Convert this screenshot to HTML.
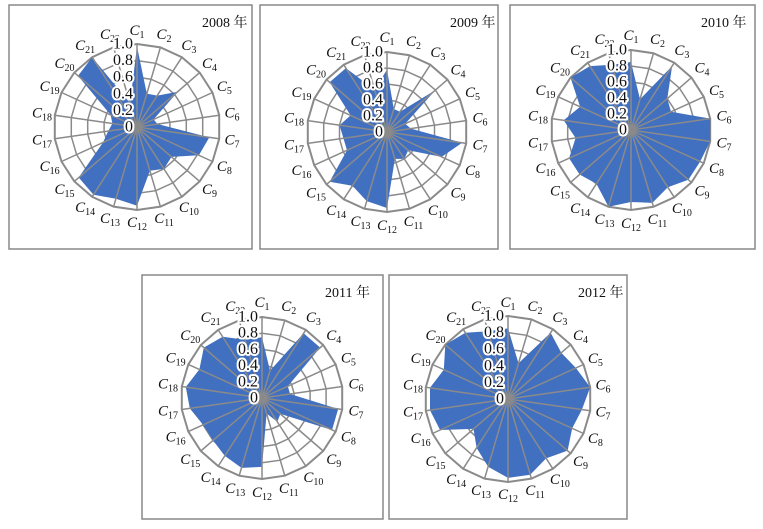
<!DOCTYPE html>
<html><head><meta charset="utf-8"><style>
body{margin:0;background:#fff;width:763px;height:529px;overflow:hidden}
svg{display:block}
.l text{font-family:"Liberation Serif",serif;font-size:15px;fill:#111;text-anchor:middle;dominant-baseline:central}
.l tspan.c{font-style:italic}
.l tspan.s{font-size:10px}
.l text.t{font-size:16px;text-anchor:end;fill:#111}
.l text.hl{font-size:16px;text-anchor:end;fill:#fff;stroke:#fff;stroke-width:4px;stroke-linejoin:round}
.h{font-family:"Liberation Serif","Noto Serif CJK SC",serif;font-size:14px;fill:#111}
</style></head><body>
<svg width="763" height="529" viewBox="0 0 763 529">
<rect x="9" y="5" width="243" height="244" fill="none" stroke="#888" stroke-width="1.5"/>
<rect x="260" y="5" width="238" height="244" fill="none" stroke="#888" stroke-width="1.5"/>
<rect x="510" y="5" width="245" height="244" fill="none" stroke="#888" stroke-width="1.5"/>
<rect x="142" y="275" width="241" height="244" fill="none" stroke="#888" stroke-width="1.5"/>
<rect x="389" y="275" width="238" height="244" fill="none" stroke="#888" stroke-width="1.5"/>
<g id="charts"></g>
<text class="h" x="202" y="27">2008 年</text>
<text class="h" x="450" y="27">2009 年</text>
<text class="h" x="701" y="27">2010 年</text>
<text class="h" x="325" y="297">2011 年</text>
<text class="h" x="578" y="297">2012 年</text>

<g class="l" transform="translate(137,127)">
<text transform="rotate(0) translate(0,-96) rotate(0)"><tspan class="c">C</tspan><tspan class="s" dy="4">1</tspan></text>
<text transform="rotate(16.36) translate(0,-96) rotate(-16.36)"><tspan class="c">C</tspan><tspan class="s" dy="4">2</tspan></text>
<text transform="rotate(32.73) translate(0,-96) rotate(-32.73)"><tspan class="c">C</tspan><tspan class="s" dy="4">3</tspan></text>
<text transform="rotate(49.09) translate(0,-96) rotate(-49.09)"><tspan class="c">C</tspan><tspan class="s" dy="4">4</tspan></text>
<text transform="rotate(65.45) translate(0,-96) rotate(-65.45)"><tspan class="c">C</tspan><tspan class="s" dy="4">5</tspan></text>
<text transform="rotate(81.82) translate(0,-96) rotate(-81.82)"><tspan class="c">C</tspan><tspan class="s" dy="4">6</tspan></text>
<text transform="rotate(98.18) translate(0,-96) rotate(-98.18)"><tspan class="c">C</tspan><tspan class="s" dy="4">7</tspan></text>
<text transform="rotate(114.55) translate(0,-96) rotate(-114.55)"><tspan class="c">C</tspan><tspan class="s" dy="4">8</tspan></text>
<text transform="rotate(130.91) translate(0,-96) rotate(-130.91)"><tspan class="c">C</tspan><tspan class="s" dy="4">9</tspan></text>
<text transform="rotate(147.27) translate(0,-96) rotate(-147.27)"><tspan class="c">C</tspan><tspan class="s" dy="4">10</tspan></text>
<text transform="rotate(163.64) translate(0,-96) rotate(-163.64)"><tspan class="c">C</tspan><tspan class="s" dy="4">11</tspan></text>
<text transform="rotate(180) translate(0,-96) rotate(-180)"><tspan class="c">C</tspan><tspan class="s" dy="4">12</tspan></text>
<text transform="rotate(196.36) translate(0,-96) rotate(-196.36)"><tspan class="c">C</tspan><tspan class="s" dy="4">13</tspan></text>
<text transform="rotate(212.73) translate(0,-96) rotate(-212.73)"><tspan class="c">C</tspan><tspan class="s" dy="4">14</tspan></text>
<text transform="rotate(229.09) translate(0,-96) rotate(-229.09)"><tspan class="c">C</tspan><tspan class="s" dy="4">15</tspan></text>
<text transform="rotate(245.45) translate(0,-96) rotate(-245.45)"><tspan class="c">C</tspan><tspan class="s" dy="4">16</tspan></text>
<text transform="rotate(261.82) translate(0,-96) rotate(-261.82)"><tspan class="c">C</tspan><tspan class="s" dy="4">17</tspan></text>
<text transform="rotate(278.18) translate(0,-96) rotate(-278.18)"><tspan class="c">C</tspan><tspan class="s" dy="4">18</tspan></text>
<text transform="rotate(294.55) translate(0,-96) rotate(-294.55)"><tspan class="c">C</tspan><tspan class="s" dy="4">19</tspan></text>
<text transform="rotate(310.91) translate(0,-96) rotate(-310.91)"><tspan class="c">C</tspan><tspan class="s" dy="4">20</tspan></text>
<text transform="rotate(327.27) translate(0,-96) rotate(-327.27)"><tspan class="c">C</tspan><tspan class="s" dy="4">21</tspan></text>
<text transform="rotate(343.64) translate(0,-96) rotate(-343.64)"><tspan class="c">C</tspan><tspan class="s" dy="4">22</tspan></text>
<text class="hl" x="-4" y="0">0</text><text class="hl" x="-4" y="-16.6">0.2</text><text class="hl" x="-4" y="-33.2">0.4</text><text class="hl" x="-4" y="-49.8">0.6</text><text class="hl" x="-4" y="-66.4">0.8</text><text class="hl" x="-4" y="-83">1.0</text>
<text class="t" x="-4" y="0">0</text><text class="t" x="-4" y="-16.6">0.2</text><text class="t" x="-4" y="-33.2">0.4</text><text class="t" x="-4" y="-49.8">0.6</text><text class="t" x="-4" y="-66.4">0.8</text><text class="t" x="-4" y="-83">1.0</text>
</g>

<g class="l" transform="translate(387,132)">
<text transform="rotate(0) translate(0,-94) rotate(0)"><tspan class="c">C</tspan><tspan class="s" dy="4">1</tspan></text>
<text transform="rotate(16.36) translate(0,-94) rotate(-16.36)"><tspan class="c">C</tspan><tspan class="s" dy="4">2</tspan></text>
<text transform="rotate(32.73) translate(0,-94) rotate(-32.73)"><tspan class="c">C</tspan><tspan class="s" dy="4">3</tspan></text>
<text transform="rotate(49.09) translate(0,-94) rotate(-49.09)"><tspan class="c">C</tspan><tspan class="s" dy="4">4</tspan></text>
<text transform="rotate(65.45) translate(0,-94) rotate(-65.45)"><tspan class="c">C</tspan><tspan class="s" dy="4">5</tspan></text>
<text transform="rotate(81.82) translate(0,-94) rotate(-81.82)"><tspan class="c">C</tspan><tspan class="s" dy="4">6</tspan></text>
<text transform="rotate(98.18) translate(0,-94) rotate(-98.18)"><tspan class="c">C</tspan><tspan class="s" dy="4">7</tspan></text>
<text transform="rotate(114.55) translate(0,-94) rotate(-114.55)"><tspan class="c">C</tspan><tspan class="s" dy="4">8</tspan></text>
<text transform="rotate(130.91) translate(0,-94) rotate(-130.91)"><tspan class="c">C</tspan><tspan class="s" dy="4">9</tspan></text>
<text transform="rotate(147.27) translate(0,-94) rotate(-147.27)"><tspan class="c">C</tspan><tspan class="s" dy="4">10</tspan></text>
<text transform="rotate(163.64) translate(0,-94) rotate(-163.64)"><tspan class="c">C</tspan><tspan class="s" dy="4">11</tspan></text>
<text transform="rotate(180) translate(0,-94) rotate(-180)"><tspan class="c">C</tspan><tspan class="s" dy="4">12</tspan></text>
<text transform="rotate(196.36) translate(0,-94) rotate(-196.36)"><tspan class="c">C</tspan><tspan class="s" dy="4">13</tspan></text>
<text transform="rotate(212.73) translate(0,-94) rotate(-212.73)"><tspan class="c">C</tspan><tspan class="s" dy="4">14</tspan></text>
<text transform="rotate(229.09) translate(0,-94) rotate(-229.09)"><tspan class="c">C</tspan><tspan class="s" dy="4">15</tspan></text>
<text transform="rotate(245.45) translate(0,-94) rotate(-245.45)"><tspan class="c">C</tspan><tspan class="s" dy="4">16</tspan></text>
<text transform="rotate(261.82) translate(0,-94) rotate(-261.82)"><tspan class="c">C</tspan><tspan class="s" dy="4">17</tspan></text>
<text transform="rotate(278.18) translate(0,-94) rotate(-278.18)"><tspan class="c">C</tspan><tspan class="s" dy="4">18</tspan></text>
<text transform="rotate(294.55) translate(0,-94) rotate(-294.55)"><tspan class="c">C</tspan><tspan class="s" dy="4">19</tspan></text>
<text transform="rotate(310.91) translate(0,-94) rotate(-310.91)"><tspan class="c">C</tspan><tspan class="s" dy="4">20</tspan></text>
<text transform="rotate(327.27) translate(0,-94) rotate(-327.27)"><tspan class="c">C</tspan><tspan class="s" dy="4">21</tspan></text>
<text transform="rotate(343.64) translate(0,-94) rotate(-343.64)"><tspan class="c">C</tspan><tspan class="s" dy="4">22</tspan></text>
<text class="hl" x="-4" y="0">0</text><text class="hl" x="-4" y="-16">0.2</text><text class="hl" x="-4" y="-32">0.4</text><text class="hl" x="-4" y="-48">0.6</text><text class="hl" x="-4" y="-64">0.8</text><text class="hl" x="-4" y="-80">1.0</text>
<text class="t" x="-4" y="0">0</text><text class="t" x="-4" y="-16">0.2</text><text class="t" x="-4" y="-32">0.4</text><text class="t" x="-4" y="-48">0.6</text><text class="t" x="-4" y="-64">0.8</text><text class="t" x="-4" y="-80">1.0</text>
</g>

<g class="l" transform="translate(631,130)">
<text transform="rotate(0) translate(0,-94) rotate(0)"><tspan class="c">C</tspan><tspan class="s" dy="4">1</tspan></text>
<text transform="rotate(16.36) translate(0,-94) rotate(-16.36)"><tspan class="c">C</tspan><tspan class="s" dy="4">2</tspan></text>
<text transform="rotate(32.73) translate(0,-94) rotate(-32.73)"><tspan class="c">C</tspan><tspan class="s" dy="4">3</tspan></text>
<text transform="rotate(49.09) translate(0,-94) rotate(-49.09)"><tspan class="c">C</tspan><tspan class="s" dy="4">4</tspan></text>
<text transform="rotate(65.45) translate(0,-94) rotate(-65.45)"><tspan class="c">C</tspan><tspan class="s" dy="4">5</tspan></text>
<text transform="rotate(81.82) translate(0,-94) rotate(-81.82)"><tspan class="c">C</tspan><tspan class="s" dy="4">6</tspan></text>
<text transform="rotate(98.18) translate(0,-94) rotate(-98.18)"><tspan class="c">C</tspan><tspan class="s" dy="4">7</tspan></text>
<text transform="rotate(114.55) translate(0,-94) rotate(-114.55)"><tspan class="c">C</tspan><tspan class="s" dy="4">8</tspan></text>
<text transform="rotate(130.91) translate(0,-94) rotate(-130.91)"><tspan class="c">C</tspan><tspan class="s" dy="4">9</tspan></text>
<text transform="rotate(147.27) translate(0,-94) rotate(-147.27)"><tspan class="c">C</tspan><tspan class="s" dy="4">10</tspan></text>
<text transform="rotate(163.64) translate(0,-94) rotate(-163.64)"><tspan class="c">C</tspan><tspan class="s" dy="4">11</tspan></text>
<text transform="rotate(180) translate(0,-94) rotate(-180)"><tspan class="c">C</tspan><tspan class="s" dy="4">12</tspan></text>
<text transform="rotate(196.36) translate(0,-94) rotate(-196.36)"><tspan class="c">C</tspan><tspan class="s" dy="4">13</tspan></text>
<text transform="rotate(212.73) translate(0,-94) rotate(-212.73)"><tspan class="c">C</tspan><tspan class="s" dy="4">14</tspan></text>
<text transform="rotate(229.09) translate(0,-94) rotate(-229.09)"><tspan class="c">C</tspan><tspan class="s" dy="4">15</tspan></text>
<text transform="rotate(245.45) translate(0,-94) rotate(-245.45)"><tspan class="c">C</tspan><tspan class="s" dy="4">16</tspan></text>
<text transform="rotate(261.82) translate(0,-94) rotate(-261.82)"><tspan class="c">C</tspan><tspan class="s" dy="4">17</tspan></text>
<text transform="rotate(278.18) translate(0,-94) rotate(-278.18)"><tspan class="c">C</tspan><tspan class="s" dy="4">18</tspan></text>
<text transform="rotate(294.55) translate(0,-94) rotate(-294.55)"><tspan class="c">C</tspan><tspan class="s" dy="4">19</tspan></text>
<text transform="rotate(310.91) translate(0,-94) rotate(-310.91)"><tspan class="c">C</tspan><tspan class="s" dy="4">20</tspan></text>
<text transform="rotate(327.27) translate(0,-94) rotate(-327.27)"><tspan class="c">C</tspan><tspan class="s" dy="4">21</tspan></text>
<text transform="rotate(343.64) translate(0,-94) rotate(-343.64)"><tspan class="c">C</tspan><tspan class="s" dy="4">22</tspan></text>
<text class="hl" x="-4" y="0">0</text><text class="hl" x="-4" y="-16">0.2</text><text class="hl" x="-4" y="-32">0.4</text><text class="hl" x="-4" y="-48">0.6</text><text class="hl" x="-4" y="-64">0.8</text><text class="hl" x="-4" y="-80">1.0</text>
<text class="t" x="-4" y="0">0</text><text class="t" x="-4" y="-16">0.2</text><text class="t" x="-4" y="-32">0.4</text><text class="t" x="-4" y="-48">0.6</text><text class="t" x="-4" y="-64">0.8</text><text class="t" x="-4" y="-80">1.0</text>
</g>

<g class="l" transform="translate(262,398)">
<text transform="rotate(0) translate(0,-95) rotate(0)"><tspan class="c">C</tspan><tspan class="s" dy="4">1</tspan></text>
<text transform="rotate(16.36) translate(0,-95) rotate(-16.36)"><tspan class="c">C</tspan><tspan class="s" dy="4">2</tspan></text>
<text transform="rotate(32.73) translate(0,-95) rotate(-32.73)"><tspan class="c">C</tspan><tspan class="s" dy="4">3</tspan></text>
<text transform="rotate(49.09) translate(0,-95) rotate(-49.09)"><tspan class="c">C</tspan><tspan class="s" dy="4">4</tspan></text>
<text transform="rotate(65.45) translate(0,-95) rotate(-65.45)"><tspan class="c">C</tspan><tspan class="s" dy="4">5</tspan></text>
<text transform="rotate(81.82) translate(0,-95) rotate(-81.82)"><tspan class="c">C</tspan><tspan class="s" dy="4">6</tspan></text>
<text transform="rotate(98.18) translate(0,-95) rotate(-98.18)"><tspan class="c">C</tspan><tspan class="s" dy="4">7</tspan></text>
<text transform="rotate(114.55) translate(0,-95) rotate(-114.55)"><tspan class="c">C</tspan><tspan class="s" dy="4">8</tspan></text>
<text transform="rotate(130.91) translate(0,-95) rotate(-130.91)"><tspan class="c">C</tspan><tspan class="s" dy="4">9</tspan></text>
<text transform="rotate(147.27) translate(0,-95) rotate(-147.27)"><tspan class="c">C</tspan><tspan class="s" dy="4">10</tspan></text>
<text transform="rotate(163.64) translate(0,-95) rotate(-163.64)"><tspan class="c">C</tspan><tspan class="s" dy="4">11</tspan></text>
<text transform="rotate(180) translate(0,-95) rotate(-180)"><tspan class="c">C</tspan><tspan class="s" dy="4">12</tspan></text>
<text transform="rotate(196.36) translate(0,-95) rotate(-196.36)"><tspan class="c">C</tspan><tspan class="s" dy="4">13</tspan></text>
<text transform="rotate(212.73) translate(0,-95) rotate(-212.73)"><tspan class="c">C</tspan><tspan class="s" dy="4">14</tspan></text>
<text transform="rotate(229.09) translate(0,-95) rotate(-229.09)"><tspan class="c">C</tspan><tspan class="s" dy="4">15</tspan></text>
<text transform="rotate(245.45) translate(0,-95) rotate(-245.45)"><tspan class="c">C</tspan><tspan class="s" dy="4">16</tspan></text>
<text transform="rotate(261.82) translate(0,-95) rotate(-261.82)"><tspan class="c">C</tspan><tspan class="s" dy="4">17</tspan></text>
<text transform="rotate(278.18) translate(0,-95) rotate(-278.18)"><tspan class="c">C</tspan><tspan class="s" dy="4">18</tspan></text>
<text transform="rotate(294.55) translate(0,-95) rotate(-294.55)"><tspan class="c">C</tspan><tspan class="s" dy="4">19</tspan></text>
<text transform="rotate(310.91) translate(0,-95) rotate(-310.91)"><tspan class="c">C</tspan><tspan class="s" dy="4">20</tspan></text>
<text transform="rotate(327.27) translate(0,-95) rotate(-327.27)"><tspan class="c">C</tspan><tspan class="s" dy="4">21</tspan></text>
<text transform="rotate(343.64) translate(0,-95) rotate(-343.64)"><tspan class="c">C</tspan><tspan class="s" dy="4">22</tspan></text>
<text class="hl" x="-4" y="0">0</text><text class="hl" x="-4" y="-16.2">0.2</text><text class="hl" x="-4" y="-32.4">0.4</text><text class="hl" x="-4" y="-48.6">0.6</text><text class="hl" x="-4" y="-64.8">0.8</text><text class="hl" x="-4" y="-81">1.0</text>
<text class="t" x="-4" y="0">0</text><text class="t" x="-4" y="-16.2">0.2</text><text class="t" x="-4" y="-32.4">0.4</text><text class="t" x="-4" y="-48.6">0.6</text><text class="t" x="-4" y="-64.8">0.8</text><text class="t" x="-4" y="-81">1.0</text>
</g>

<g class="l" transform="translate(508,399)">
<text transform="rotate(0) translate(0,-96) rotate(0)"><tspan class="c">C</tspan><tspan class="s" dy="4">1</tspan></text>
<text transform="rotate(16.36) translate(0,-96) rotate(-16.36)"><tspan class="c">C</tspan><tspan class="s" dy="4">2</tspan></text>
<text transform="rotate(32.73) translate(0,-96) rotate(-32.73)"><tspan class="c">C</tspan><tspan class="s" dy="4">3</tspan></text>
<text transform="rotate(49.09) translate(0,-96) rotate(-49.09)"><tspan class="c">C</tspan><tspan class="s" dy="4">4</tspan></text>
<text transform="rotate(65.45) translate(0,-96) rotate(-65.45)"><tspan class="c">C</tspan><tspan class="s" dy="4">5</tspan></text>
<text transform="rotate(81.82) translate(0,-96) rotate(-81.82)"><tspan class="c">C</tspan><tspan class="s" dy="4">6</tspan></text>
<text transform="rotate(98.18) translate(0,-96) rotate(-98.18)"><tspan class="c">C</tspan><tspan class="s" dy="4">7</tspan></text>
<text transform="rotate(114.55) translate(0,-96) rotate(-114.55)"><tspan class="c">C</tspan><tspan class="s" dy="4">8</tspan></text>
<text transform="rotate(130.91) translate(0,-96) rotate(-130.91)"><tspan class="c">C</tspan><tspan class="s" dy="4">9</tspan></text>
<text transform="rotate(147.27) translate(0,-96) rotate(-147.27)"><tspan class="c">C</tspan><tspan class="s" dy="4">10</tspan></text>
<text transform="rotate(163.64) translate(0,-96) rotate(-163.64)"><tspan class="c">C</tspan><tspan class="s" dy="4">11</tspan></text>
<text transform="rotate(180) translate(0,-96) rotate(-180)"><tspan class="c">C</tspan><tspan class="s" dy="4">12</tspan></text>
<text transform="rotate(196.36) translate(0,-96) rotate(-196.36)"><tspan class="c">C</tspan><tspan class="s" dy="4">13</tspan></text>
<text transform="rotate(212.73) translate(0,-96) rotate(-212.73)"><tspan class="c">C</tspan><tspan class="s" dy="4">14</tspan></text>
<text transform="rotate(229.09) translate(0,-96) rotate(-229.09)"><tspan class="c">C</tspan><tspan class="s" dy="4">15</tspan></text>
<text transform="rotate(245.45) translate(0,-96) rotate(-245.45)"><tspan class="c">C</tspan><tspan class="s" dy="4">16</tspan></text>
<text transform="rotate(261.82) translate(0,-96) rotate(-261.82)"><tspan class="c">C</tspan><tspan class="s" dy="4">17</tspan></text>
<text transform="rotate(278.18) translate(0,-96) rotate(-278.18)"><tspan class="c">C</tspan><tspan class="s" dy="4">18</tspan></text>
<text transform="rotate(294.55) translate(0,-96) rotate(-294.55)"><tspan class="c">C</tspan><tspan class="s" dy="4">19</tspan></text>
<text transform="rotate(310.91) translate(0,-96) rotate(-310.91)"><tspan class="c">C</tspan><tspan class="s" dy="4">20</tspan></text>
<text transform="rotate(327.27) translate(0,-96) rotate(-327.27)"><tspan class="c">C</tspan><tspan class="s" dy="4">21</tspan></text>
<text transform="rotate(343.64) translate(0,-96) rotate(-343.64)"><tspan class="c">C</tspan><tspan class="s" dy="4">22</tspan></text>
<text class="hl" x="-4" y="0">0</text><text class="hl" x="-4" y="-16.6">0.2</text><text class="hl" x="-4" y="-33.2">0.4</text><text class="hl" x="-4" y="-49.8">0.6</text><text class="hl" x="-4" y="-66.4">0.8</text><text class="hl" x="-4" y="-83">1.0</text>
<text class="t" x="-4" y="0">0</text><text class="t" x="-4" y="-16.6">0.2</text><text class="t" x="-4" y="-33.2">0.4</text><text class="t" x="-4" y="-49.8">0.6</text><text class="t" x="-4" y="-66.4">0.8</text><text class="t" x="-4" y="-83">1.0</text>
</g>
</svg>
<script>
var P=[[137,127,83],[387,132,80],[631,130,80],[262,398,81],[508,399,83]];
var V=[
[.97,.42,.45,.65,.22,.25,.88,.82,.55,.6,.55,.95,.9,.97,.93,.45,.35,.3,.35,.94,1,.3],
[.78,.3,.3,.8,.25,.3,.95,.75,.35,.4,.35,.95,.9,.8,.95,.55,.55,.6,.5,.95,.95,.55],
[.85,.4,.95,.6,.55,1,1,.95,.95,.85,.95,.9,1,.8,.85,.85,.7,.85,.7,1,.95,.85],
[.75,.35,.95,.95,.35,.35,.95,.95,.3,.35,.2,.85,.9,.85,.8,.8,.9,.95,.85,.95,.9,.75],
[.85,.45,.95,.85,.9,1,.9,.85,.95,.85,.95,.95,.85,.7,.55,.9,.95,.95,.85,1,.95,.85]];
var o="";
P.forEach(function(p,i){var cx=p[0],cy=p[1],R=p[2],pts=[],k,j;
function xy(r,k){var a=k*2*Math.PI/22;return [(cx+r*Math.sin(a)).toFixed(1),(cy-r*Math.cos(a)).toFixed(1)];}
for(j=1;j<=5;j++){var q=[];for(k=0;k<22;k++)q.push(xy(R*j/5,k).join(","));o+='<polygon points="'+q.join(" ")+'" fill="none" stroke="#8a8a8a" stroke-width="'+(j==5?2:1.5)+'"/>';}
for(k=0;k<22;k++)pts.push(xy(V[i][k]*R,k).join(","));
o+='<polygon points="'+pts.join(" ")+'" fill="#4170c0"/>';
for(k=0;k<22;k++){var e=xy(R,k);o+='<line x1="'+cx+'" y1="'+cy+'" x2="'+e[0]+'" y2="'+e[1]+'" stroke="#8a8a8a" stroke-width="1.5"/>';}
});
document.getElementById("charts").innerHTML=o;
</script>
</body></html>
